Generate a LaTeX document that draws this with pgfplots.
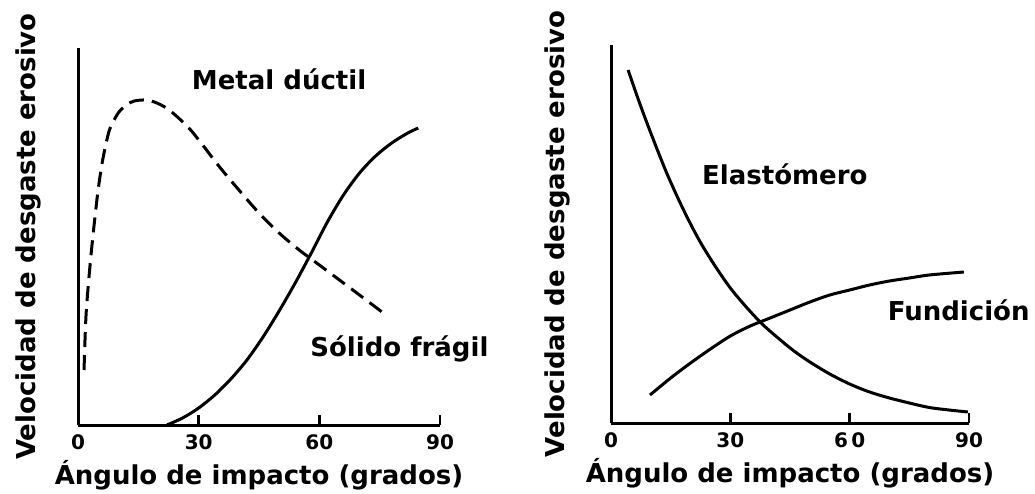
\documentclass[border=0pt]{standalone}
\usepackage{fontspec}
\setmainfont{DejaVu Sans}
\usepackage{pgfplots}
\pgfplotsset{compat=1.18}

\tikzset{lbl/.style={font=\fontsize{26}{30}\selectfont\bfseries, anchor=base}}

% y values are in picture units (0 = baseline)
\pgfplotsset{
  panel/.style={
    scale only axis, anchor=south west, clip=false,
    axis x line=bottom, axis y line=left,
    axis line style={-, line width=3pt},
    xmin=0, xmax=90, ymin=0,
    xtick={0,30,60,90}, ytick=\empty,
    tick align=inside, major tick length=10pt,
    every tick/.style={black, line width=2.5pt},
    /pgf/number format/assume math mode=true,
    xticklabel style={font=\fontsize{20}{22}\selectfont\bfseries, anchor=base, yshift=-24pt},
    xlabel={Ángulo de impacto (grados)},
    ylabel={Velocidad de desgaste erosivo},
    every axis x label/.style={at={(axis description cs:0.5,0)}, anchor=base, yshift=-59pt,
      font=\fontsize{26}{30}\selectfont\bfseries},
    every axis y label/.style={at={(axis description cs:0,0.5)}, anchor=base, rotate=90,
      font=\fontsize{26}{30}\selectfont\bfseries},
  }
}

\begin{document}
\begin{tikzpicture}[x=1pt,y=1pt]
\useasboundingbox (0,0) rectangle (1035,493);

% left panel
\begin{axis}[panel, at={(78pt,68pt)}, width=362pt, height=377pt, ymax=377,
  ylabel style={yshift=42pt}]
\addplot[black, line width=3pt, smooth, dash pattern=on 15pt off 8pt] coordinates {
  (1.5,55) (2,110) (3,160) (4,200) (5,235) (6,262) (7,282) (8,297) (10,312)
  (12,320) (14,324) (16.7,325) (19,323) (22,317) (25,307) (28,295) (31,280)
  (35,259) (40,235) (45,212) (50,192) (55,175) (60,160) (65,145) (70,130)
  (75.9,112)};
\addplot[black, line width=3pt, smooth] coordinates {
  (22.1,0) (26,7) (30,17) (34,30) (38,46) (42,65) (46,88) (50,114) (54,142)
  (58,172) (62,203) (66,230) (70,252) (74,269) (78,282) (82,292) (84.6,297)};
\node[lbl] at (axis cs:50,335) {Metal dúctil};
\node[lbl] at (axis cs:79.9,69) {Sólido frágil};
\end{axis}

% right panel
\begin{axis}[panel, at={(611pt,70pt)}, width=358pt, height=378pt, ymax=378,
  xticklabels={0,30,6\,0,90}, ylabel style={yshift=47pt}]
\addplot[black, line width=3pt, smooth] coordinates {
  (4.3,353) (7,322) (10,290) (14,250) (18,215) (22,184) (26,158) (30,135)
  (34,116) (38,99) (42,85) (46,72) (50,61) (55,49) (60,39) (65,31) (70,25)
  (75,20) (80,15.5) (85,13) (89.7,11)};
\addplot[black, line width=3pt, smooth] coordinates {
  (9.8,28) (15,45) (20,60) (25,74) (30,87) (35,97) (40,105) (45,113) (50,121)
  (55,128) (60,133) (65,138) (70,142) (75,145) (80,148) (88.7,151)};
\node[lbl] at (axis cs:43.7,238) {Elastómero};
\node[lbl] at (axis cs:87.4,103) {Fundición};
\end{axis}
\end{tikzpicture}
\end{document}
